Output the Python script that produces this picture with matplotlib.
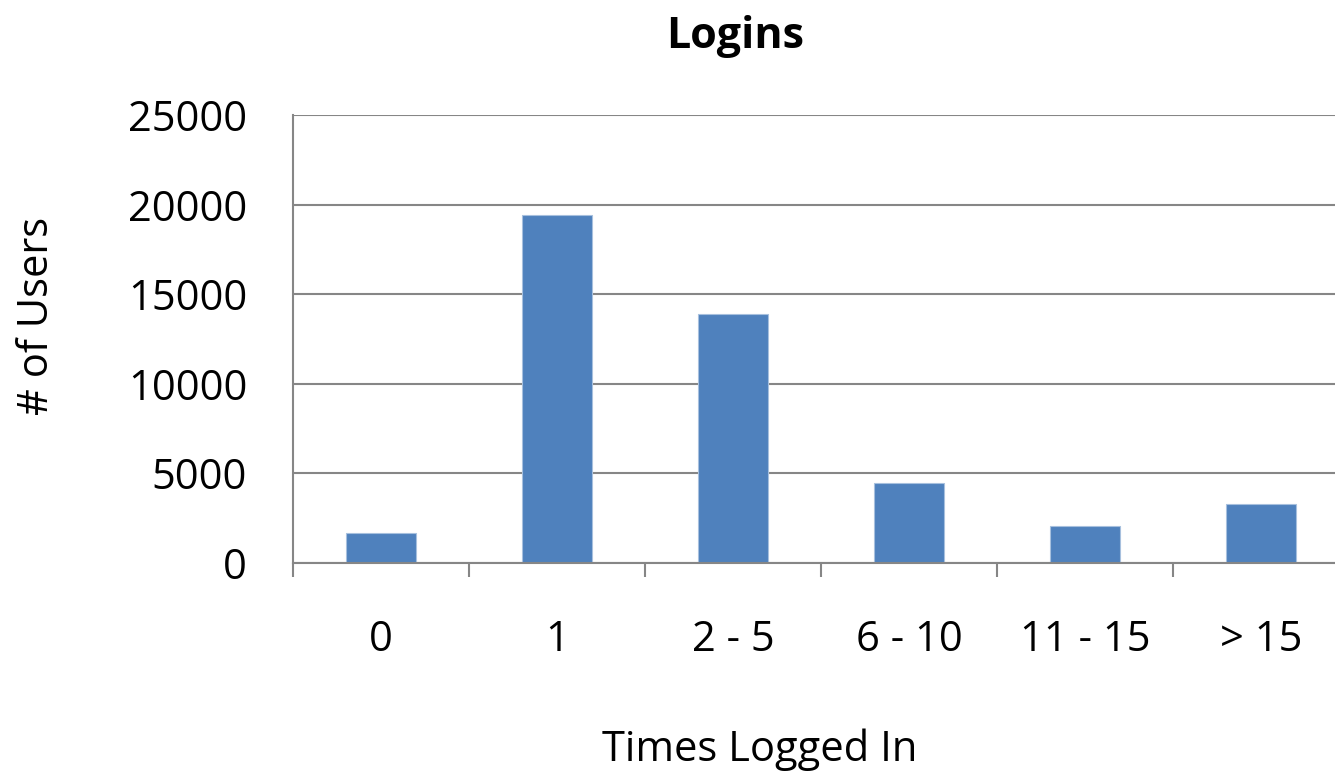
import matplotlib
matplotlib.use("Agg")
import matplotlib.pyplot as plt

categories = ["0", "1", "2 - 5", "6 - 10", "11 - 15", "> 15"]
users = [1650, 19440, 13920, 4490, 2090, 3270]
yticks = [0, 5000, 10000, 15000, 20000, 25000]

plt.rcParams['font.family'] = ['Open Sans', 'DejaVu Sans']

W, H = 1335, 777
fig = plt.figure(figsize=(W/100, H/100), dpi=100)
left, right, top, bottom = 293, 1349, 115, 563
ax = fig.add_axes([left/W, 1-bottom/H, (right-left)/W, (bottom-top)/H])

x = list(range(len(categories)))
ax.bar(x, users, width=0.4, color="#4f81bd", edgecolor="#a7c0de", linewidth=0.8, zorder=3)
ax.set_xlim(-0.5, len(categories)-0.5)
ax.set_ylim(0, 25000)
ax.set_yticks(yticks)
ax.set_yticklabels([str(v) for v in yticks], fontsize=30)
ax.set_xticks(x)
ax.set_xticklabels(categories, fontsize=30)
ax.set_xticks([i-0.5 for i in range(len(categories)+1)], minor=True)
ax.tick_params(axis='x', which='major', length=0, pad=40)
ax.tick_params(axis='x', which='minor', length=10, width=1.5, color="#868686")
ax.tick_params(axis='y', length=0, pad=33)
ax.grid(axis='y', color="#868686", linewidth=1.5, zorder=0)
for s in ['top', 'right']:
    ax.spines[s].set_visible(False)
for s in ['left', 'bottom']:
    ax.spines[s].set_color("#868686")
    ax.spines[s].set_linewidth(1.5)
ax.spines['bottom'].set_zorder(4)

fig.text(760/W, 1-750/H, "Times Logged In", fontsize=30, ha='center', va='center')
fig.text(37/W, 1-316/H, "# of Users", fontsize=30, ha='center', va='center', rotation=90)
fig.text(735/W, 1-36/H, "Logins", fontsize=31, fontweight='bold', ha='center', va='center')

fig.savefig("out.png", dpi=100)
